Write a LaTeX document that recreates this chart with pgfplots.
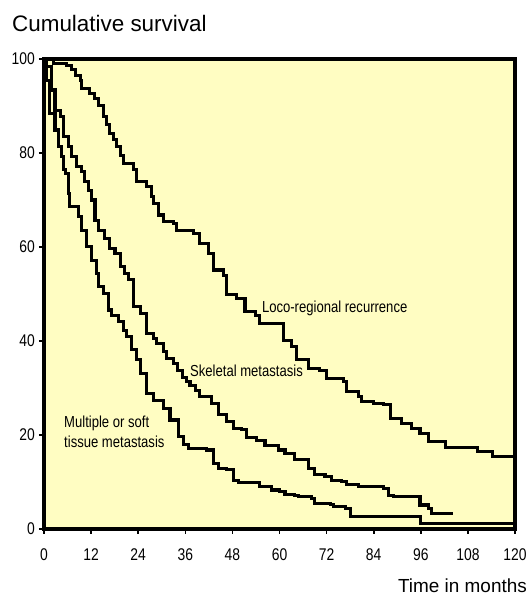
\documentclass[border=0pt]{standalone}
\usepackage{pgfplots}
\pgfplotsset{compat=1.18}
\usepackage{fontspec}
\setmainfont{Liberation Sans}
\newfontfamily\narrowfont[FakeStretch=0.82]{Liberation Sans}
\definecolor{bgyellow}{RGB}{255,253,194}
\begin{document}
\begin{tikzpicture}
\path[use as bounding box] (0,0) rectangle (530bp,596bp);
\node[anchor=base west, inner sep=0pt, font=\fontsize{22.5}{24}\selectfont] at (12bp,564.5bp) {Cumulative survival};
\node[anchor=base east, inner sep=0pt, font=\fontsize{19}{20}\selectfont] at (527bp,4bp) {Time in months};
\begin{axis}[
  at={(44bp,67bp)}, anchor=south west,
  width=471bp, height=470bp, scale only axis,
  xmin=0, xmax=120, ymin=0, ymax=100,
  xtick={0,12,...,120}, ytick={0,20,...,100},
  axis background/.style={fill=bgyellow},
  axis line style={draw=none},
  tick style={line width=1.6pt, black},
  tick align=outside, major tick length=5bp,
  xtick pos=left, ytick pos=left,
  /pgf/number format/assume math mode=true,
  ticklabel style={font=\narrowfont\fontsize{17}{17}\selectfont},
  yticklabel style={anchor=east, inner sep=0pt, xshift=-4bp},
  xticklabel style={anchor=north, inner sep=0pt, yshift=-14bp},
  clip=false,
  km/.style={const plot mark left, line width=3.1pt, black, mark=none, line join=miter},
]
\draw[line width=3.8pt, black] (rel axis cs:0,0) rectangle (rel axis cs:1,1);
\addplot[km] coordinates {(0,100)(2.4,99.1)(5.8,98.7)(7.0,97.7)(8.0,96.5)(9.2,95.5)(9.6,93.8)(11.7,92.7)(12.8,91.5)(13.8,90.2)(15.1,87.7)(16.0,86.0)(16.8,84.2)(17.6,82.8)(18.5,81.3)(19.4,79.5)(20.2,77.8)(22.8,76.4)(23.6,73.9)(26.2,72.8)(27.4,70.7)(27.9,69.3)(29.1,66.8)(30.4,65.4)(32.9,65.0)(33.8,63.6)(38.0,62.9)(39.7,60.8)(41.9,58.7)(43.1,55.1)(45.7,54.0)(46.5,49.8)(49.1,49.1)(51.2,46.2)(53.8,45.5)(55.0,43.8)(61.0,40.2)(63.1,38.8)(64.4,36.0)(67.3,34.2)(70.3,33.8)(72.0,32.1)(76.3,31.3)(77.1,29.2)(80.1,28.2)(80.9,27.1)(83.9,26.7)(86.4,26.4)(88.2,23.6)(91.1,22.5)(93.7,21.4)(95.8,20.4)(97.9,18.6)(102.4,17.4)(110.5,16.4)(114.3,15.5)(120,14.3)};
\addplot[km] coordinates {(0,100)(0.7,98.4)(2.0,93.4)(2.8,89.1)(4.1,87.7)(4.9,83.5)(6.2,81.3)(7.1,79.2)(8.3,77.1)(9.6,76.0)(10.4,73.9)(11.3,72.1)(12.0,70.0)(13.0,65.7)(13.8,63.6)(15.5,61.8)(16.8,59.7)(18.1,58.7)(19.4,55.8)(20.6,54.4)(21.5,53.0)(22.8,47.3)(24.5,45.9)(26.2,41.6)(27.8,40.6)(28.7,39.5)(30.4,37.7)(31.3,36.3)(32.9,35.3)(34.1,33.8)(35.4,32.3)(36.3,31.4)(37.2,30.6)(38.5,29.4)(39.7,28.1)(42.7,26.7)(44.4,24.3)(46.5,22.8)(48.2,21.4)(50.4,21.1)(51.6,19.5)(54.2,18.9)(56.3,17.7)(59.7,16.8)(61.4,16.1)(63.9,14.7)(67.3,12.9)(69.0,11.5)(71.6,11.1)(73.3,10.4)(75.8,10.1)(77.1,9.4)(80.1,9.0)(86.4,8.7)(87.7,7.2)(89.0,6.9)(95.8,5.1)(97.9,4.4)(98.8,3.3)(104.3,3.3)};
\addplot[km] coordinates {(0,100)(0.7,95.5)(1.4,91.3)(1.5,88.4)(2.8,84.9)(3.6,81.3)(4.5,79.2)(4.9,76.4)(5.4,75.7)(6.2,71.4)(6.6,68.6)(8.7,66.5)(9.6,63.6)(10.9,60.1)(12.2,57.2)(13.4,54.4)(13.8,51.6)(15.1,50.1)(16.4,46.6)(17.2,45.5)(18.9,44.1)(20.2,42.3)(21.0,40.9)(22.3,38.1)(23.6,36.0)(24.5,33.1)(26.2,28.9)(27.8,27.4)(30.4,25.7)(32.1,23.2)(34.2,19.6)(35.5,17.9)(36.8,17.2)(41.4,16.8)(43.1,14.0)(44.4,12.9)(46.5,12.6)(48.2,10.4)(49.5,9.9)(55.0,9.1)(58.0,8.3)(60.1,7.9)(61.4,7.4)(63.9,7.2)(64.8,6.9)(68.2,6.5)(69.0,5.5)(72.9,5.3)(73.7,4.7)(76.7,4.4)(78.0,2.6)(96.0,1.2)(120,1.2)};
\node[anchor=base west, inner sep=0pt, font=\narrowfont\fontsize{16}{19}\selectfont] at (axis cs:55.5,46.0) {Loco-regional recurrence};
\node[anchor=base west, inner sep=0pt, font=\narrowfont\fontsize{16}{19}\selectfont] at (axis cs:37.2,32.4) {Skeletal metastasis};
\node[anchor=base west, inner sep=0pt, font=\narrowfont\fontsize{16}{19}\selectfont] at (axis cs:5.1,21.5) {Multiple or soft};
\node[anchor=base west, inner sep=0pt, font=\narrowfont\fontsize{16}{19}\selectfont] at (axis cs:5.1,17.4) {tissue metastasis};
\end{axis}
\end{tikzpicture}
\end{document}
